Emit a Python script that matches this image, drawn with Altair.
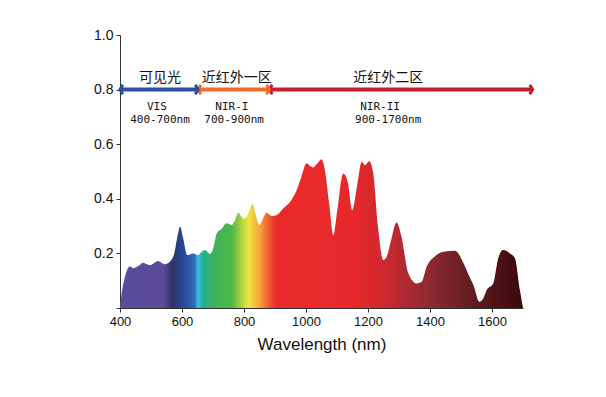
import altair as alt
import pandas as pd

# spectrum (wavelength nm, relative intensity)
wavelength = [400, 405, 415, 425, 432, 443, 460, 475, 487, 497, 510, 523, 535, 545, 561, 575, 585, 594,
              603, 617, 636, 652, 663, 674, 690, 700, 712, 728, 744, 760, 770, 782, 795, 803, 815, 828,
              838, 850, 862, 873, 889, 905, 927, 953, 970, 985, 1002, 1013, 1023, 1037, 1050, 1061,
              1075, 1088, 1100, 1120, 1135, 1149, 1165, 1180, 1190, 1204, 1217, 1232, 1249, 1260, 1275,
              1292, 1308, 1330, 1357, 1373, 1389, 1416, 1443, 1481, 1508, 1525, 1540, 1559, 1572, 1583,
              1604, 1620, 1636, 1658, 1674, 1690, 1700]
intensity = [0.0, 0.05, 0.11, 0.145, 0.152, 0.146, 0.155, 0.166, 0.16, 0.157, 0.165, 0.172, 0.165, 0.16,
             0.17, 0.2, 0.26, 0.298, 0.26, 0.194, 0.2, 0.194, 0.205, 0.212, 0.198, 0.215, 0.273, 0.29,
             0.31, 0.304, 0.32, 0.349, 0.33, 0.328, 0.35, 0.383, 0.34, 0.304, 0.33, 0.349, 0.337, 0.34,
             0.365, 0.396, 0.432, 0.48, 0.53, 0.52, 0.515, 0.53, 0.545, 0.505, 0.38, 0.267, 0.35, 0.493,
             0.46, 0.359, 0.45, 0.536, 0.524, 0.538, 0.493, 0.3, 0.176, 0.188, 0.25, 0.313, 0.261, 0.127,
             0.09, 0.096, 0.151, 0.19, 0.206, 0.21, 0.164, 0.12, 0.084, 0.023, 0.036, 0.066, 0.09, 0.182,
             0.212, 0.2, 0.182, 0.066, 0.0]

# colour gradient stops along the wavelength axis
stop_wl = [400, 540, 570, 605, 640, 652, 668, 700, 760, 790, 815, 850, 880, 905, 1150, 1250, 1400, 1560, 1700]
stop_colors = ["#5b4a9e", "#5a4a98", "#2e3368", "#24499a", "#2f6ab8", "#3cc0e0", "#20b096", "#3cb25a",
               "#4cb848", "#a8d040", "#f0e640", "#f5a43a", "#ef5a30", "#ea2a2a", "#e8282a", "#d02830",
               "#8c2a30", "#5a1a1c", "#3c080a"]

# band arrows
arrow_start = [400, 652, 882]
arrow_end = [652, 882, 1731]
arrow_colors = ["#2c50a0", "#f26b2c", "#c41e2e"]
arrow_y = [0.8, 0.8, 0.8]

# band labels
cn_labels = ["可见光", "近红外一区", "近红外二区"]
cn_x = [529, 777, 1265]
cn_y = [0.842, 0.842, 0.842]
en_labels = ["VIS", "400-700nm", "NIR-I", "700-900nm", "NIR-II", "900-1700nm"]
en_x = [519, 529, 761, 768, 1239, 1265]
en_y = [0.736, 0.689, 0.736, 0.689, 0.736, 0.689]

x_ticks = list(range(400, 1701, 100))
y_ticks = [round(0.1 * i, 1) for i in range(0, 11)]

spec = pd.DataFrame({"wl": wavelength, "val": intensity})
arrows = pd.DataFrame({"x": arrow_start, "x2": arrow_end, "y": arrow_y, "c": arrow_colors})
cn = pd.DataFrame({"x": cn_x, "y": cn_y, "t": cn_labels})
en = pd.DataFrame({"x": en_x, "y": en_y, "t": en_labels})

xscale = alt.Scale(domain=[400, 1700], nice=False, zero=False)
yscale = alt.Scale(domain=[0, 1.0], nice=False)

gradient = alt.LinearGradient(
    gradient="linear",
    stops=[alt.GradientStop(color=c, offset=(w - 400) / 1300) for w, c in zip(stop_wl, stop_colors)],
    x1=0, x2=1, y1=0, y2=0,
)

xaxis = alt.Axis(values=x_ticks, labelExpr="datum.value % 200 == 0 ? datum.label : ''",
                 title="Wavelength (nm)", grid=False, tickSize=4, labelFontSize=13,
                 titleFontSize=17, titleFontWeight="normal", labelFont="Liberation Sans",
                 titleFont="Liberation Sans", domainColor="#333", tickColor="#333",
                 labelColor="#111", titleColor="#111", labelPadding=3, titlePadding=8,
                 labelFlush=False, format="d")
yaxis = alt.Axis(values=y_ticks, format=".1f",
                 labelExpr="indexof(['0.2','0.4','0.6','0.8','1.0'], datum.label) >= 0 ? datum.label : ''",
                 title=None, grid=False, tickSize=4, labelFontSize=14, labelFont="Liberation Sans",
                 domainColor="#333", tickColor="#333", labelColor="#111", labelPadding=3)

area = alt.Chart(spec).mark_area(color=gradient, interpolate="monotone").encode(
    x=alt.X("wl:Q", scale=xscale, axis=xaxis),
    y=alt.Y("val:Q", scale=yscale, axis=yaxis),
)

rules = alt.Chart(arrows).mark_rule(strokeWidth=4).encode(
    x=alt.X("x:Q", scale=xscale), x2="x2:Q", y=alt.Y("y:Q", scale=yscale),
    color=alt.Color("c:N", scale=None),
)
left_heads = alt.Chart(arrows).mark_point(shape="M0.6,-1 L0,0 L0.6,1", size=90, strokeWidth=3,
                                          filled=False, opacity=1).encode(
    x=alt.X("x:Q", scale=xscale), y=alt.Y("y:Q", scale=yscale),
    color=alt.Color("c:N", scale=None),
)
right_heads = alt.Chart(arrows).mark_point(shape="M-0.6,-1 L0,0 L-0.6,1", size=90, strokeWidth=3,
                                           filled=False, opacity=1).encode(
    x=alt.X("x2:Q", scale=xscale), y=alt.Y("y:Q", scale=yscale),
    color=alt.Color("c:N", scale=None),
)

cn_text = alt.Chart(cn).mark_text(font="Noto Sans CJK SC", fontSize=14, color="#111").encode(
    x=alt.X("x:Q", scale=xscale), y=alt.Y("y:Q", scale=yscale), text="t:N",
)
en_text = alt.Chart(en).mark_text(font="DejaVu Sans Mono", fontSize=11, color="#111").encode(
    x=alt.X("x:Q", scale=xscale), y=alt.Y("y:Q", scale=yscale), text="t:N",
)

chart = alt.layer(area, rules, left_heads, right_heads, cn_text, en_text).properties(
    width=403, height=273,
    autosize=alt.AutoSizeParams(type="none"),
    padding={"left": 112, "top": 27, "right": 75, "bottom": 81},
).configure_view(stroke=None)

chart.save("out.html", embed_options={"renderer": "svg", "actions": False})
